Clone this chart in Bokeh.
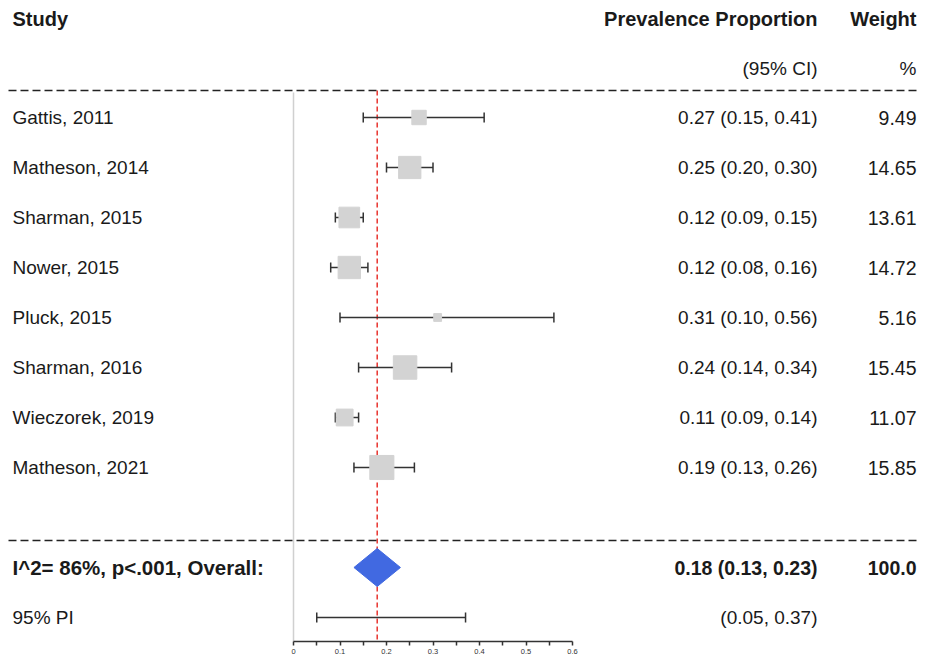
from bokeh.plotting import figure
from bokeh.models import Range1d, FixedTicker, LinearAxis
from bokeh.embed import file_html
from bokeh.resources import INLINE
from bokeh.core.properties import value

# ---------------- data ----------------
studies = ["Gattis, 2011", "Matheson, 2014", "Sharman, 2015", "Nower, 2015",
           "Pluck, 2015", "Sharman, 2016", "Wieczorek, 2019", "Matheson, 2021"]
est = [0.27, 0.25, 0.12, 0.12, 0.31, 0.24, 0.11, 0.19]
lo = [0.15, 0.20, 0.09, 0.08, 0.10, 0.14, 0.09, 0.13]
hi = [0.41, 0.30, 0.15, 0.16, 0.56, 0.34, 0.14, 0.26]
weights = [9.49, 14.65, 13.61, 14.72, 5.16, 15.45, 11.07, 15.85]

overall_label = "I^2= 86%, p<.001, Overall:"
overall_est = 0.18
overall_lo = 0.13
overall_hi = 0.23
overall_weight = "100.0"

pi_label = "95% PI"
pi_lo = 0.05
pi_hi = 0.37

tick_values = [0, 0.1, 0.2, 0.3, 0.4, 0.5, 0.6]
tick_labels = ["0", "0.1", "0.2", "0.3", "0.4", "0.5", "0.6"]
minor_tick_values = [0.05, 0.15, 0.25, 0.35, 0.45, 0.55]

header_study = "Study"
header_est = "Prevalence Proportion"
header_est2 = "(95% CI)"
header_wt = "Weight"
header_wt2 = "%"

# ---------------- layout constants (pixels in the picture) ----------------
W, H = 918, 657
ZERO_PX = 293           # x of value 0
PX_PER_UNIT = 465.0     # pixels per unit of proportion
ROW0_PX = 117           # y of first study row
ROW_H = 50.0            # row spacing
FRAME_BOTTOM_PX = 641   # y of axis line


def xd(px):
    return (px - ZERO_PX) / PX_PER_UNIT


def yd(py):
    return (py - ROW0_PX) / ROW_H


x_start, x_end = xd(0), xd(W)
y_top, y_bottom = yd(0), yd(FRAME_BOTTOM_PX)

p = figure(width=W, height=H, output_backend="svg", toolbar_location=None,
           x_range=Range1d(x_start, x_end), y_range=Range1d(y_bottom, y_top),
           x_axis_location=None, y_axis_location=None,
           min_border=0, min_border_bottom=H - FRAME_BOTTOM_PX)
p.outline_line_color = None
p.xgrid.visible = False
p.ygrid.visible = False
p.background_fill_color = "white"
p.border_fill_color = "white"

FONT = value("Liberation Sans")
TXT = "#1a1a1a"

rows = list(range(len(studies)))
ov_row = len(studies) + 1
pi_row = len(studies) + 2

# reference lines
p.segment(x0=[0], y0=[yd(92)], x1=[0], y1=[y_bottom], line_color="#d0d0d0", line_width=1.5)
p.segment(x0=[overall_est], y0=[yd(90)], x1=[overall_est], y1=[y_bottom],
          line_color="#e8332e", line_width=1.5, line_dash="5 3")

# dashed separators
for py in (90, 540):
    p.segment(x0=[xd(8)], y0=[yd(py)], x1=[xd(916)], y1=[yd(py)],
              line_color="#222222", line_width=1.5, line_dash="8 4")

# study CIs
LC = "#333333"
p.segment(x0=lo, y0=rows, x1=hi, y1=rows, line_color=LC, line_width=1.5)
cap = 5 / ROW_H
p.segment(x0=lo, y0=[r - cap for r in rows], x1=lo, y1=[r + cap for r in rows], line_color=LC, line_width=1.5)
p.segment(x0=hi, y0=[r - cap for r in rows], x1=hi, y1=[r + cap for r in rows], line_color=LC, line_width=1.5)
p.scatter(x=est, y=rows, marker="square", size=[w * 1.52 for w in weights],
          fill_color="#d3d3d3", line_color="#d3d3d3")

# overall diamond
dh = 19 / ROW_H
p.patch(x=[overall_lo, overall_est, overall_hi, overall_est],
        y=[ov_row, ov_row - dh, ov_row, ov_row + dh],
        fill_color="#4169e1", line_color="#4169e1", line_width=1)

# prediction interval
p.segment(x0=[pi_lo], y0=[pi_row], x1=[pi_hi], y1=[pi_row], line_color=LC, line_width=1.5)
p.segment(x0=[pi_lo, pi_hi], y0=[pi_row - cap] * 2, x1=[pi_lo, pi_hi], y1=[pi_row + cap] * 2,
          line_color=LC, line_width=1.5)

# ---------------- texts ----------------
NAME_X = xd(12)
EST_X = xd(817)
WT_X = xd(916)

# headers
p.text(x=[NAME_X], y=[yd(18)], text=[header_study], text_font=FONT, text_font_size="20px",
       text_font_style="bold", text_baseline="middle", text_align="left", text_color=TXT)
p.text(x=[EST_X, WT_X], y=[yd(18)] * 2, text=[header_est, header_wt], text_font=FONT,
       text_font_size="20px", text_font_style="bold", text_baseline="middle",
       text_align="right", text_color=TXT)
p.text(x=[EST_X, WT_X], y=[yd(68)] * 2, text=[header_est2, header_wt2], text_font=FONT,
       text_font_size="19px", text_baseline="middle", text_align="right", text_color=TXT)

# study rows
p.text(x=[NAME_X] * len(studies), y=rows, text=studies, text_font=FONT, text_font_size="19px",
       text_baseline="middle", text_align="left", text_color=TXT)
est_txt = [f"{e:.2f} ({l:.2f}, {h:.2f})" for e, l, h in zip(est, lo, hi)]
p.text(x=[EST_X] * len(studies), y=rows, text=est_txt, text_font=FONT, text_font_size="19px",
       text_baseline="middle", text_align="right", text_color=TXT)
p.text(x=[WT_X] * len(studies), y=rows, text=[f"{w:.2f}" for w in weights], text_font=FONT,
       text_font_size="19.5px", text_baseline="middle", text_align="right", text_color=TXT)

# overall
p.text(x=[NAME_X], y=[ov_row], text=[overall_label], text_font=FONT, text_font_size="20.5px",
       text_font_style="bold", text_baseline="middle", text_align="left", text_color=TXT)
p.text(x=[EST_X, WT_X], y=[ov_row] * 2,
       text=[f"{overall_est:.2f} ({overall_lo:.2f}, {overall_hi:.2f})", overall_weight],
       text_font=FONT, text_font_size="19.5px", text_font_style="bold", text_baseline="middle",
       text_align="right", text_color=TXT)

# PI
p.text(x=[NAME_X], y=[pi_row], text=[pi_label], text_font=FONT, text_font_size="19px",
       text_baseline="middle", text_align="left", text_color=TXT)
p.text(x=[EST_X], y=[pi_row], text=[f"({pi_lo:.2f}, {pi_hi:.2f})"], text_font=FONT,
       text_font_size="19px", text_baseline="middle", text_align="right", text_color=TXT)

# ---------------- axis ----------------
ax = LinearAxis(bounds=(tick_values[0], tick_values[-1]),
                ticker=FixedTicker(ticks=tick_values, minor_ticks=minor_tick_values),
                major_label_overrides={v: s for v, s in zip(tick_values, tick_labels)})
ax.axis_line_color = "#333333"
ax.axis_line_width = 1.5
ax.major_tick_line_color = "#333333"
ax.minor_tick_line_color = "#333333"
ax.major_tick_line_width = 1.5
ax.minor_tick_line_width = 1.5
ax.major_tick_in = 0
ax.major_tick_out = 4
ax.minor_tick_in = 0
ax.minor_tick_out = 4
ax.major_label_standoff = 3
ax.major_label_text_font = "Liberation Sans"
ax.major_label_text_font_size = "7.5px"
ax.major_label_text_color = "#333333"
p.add_layout(ax, "below")

open("out.html", "w").write(file_html(p, INLINE))
